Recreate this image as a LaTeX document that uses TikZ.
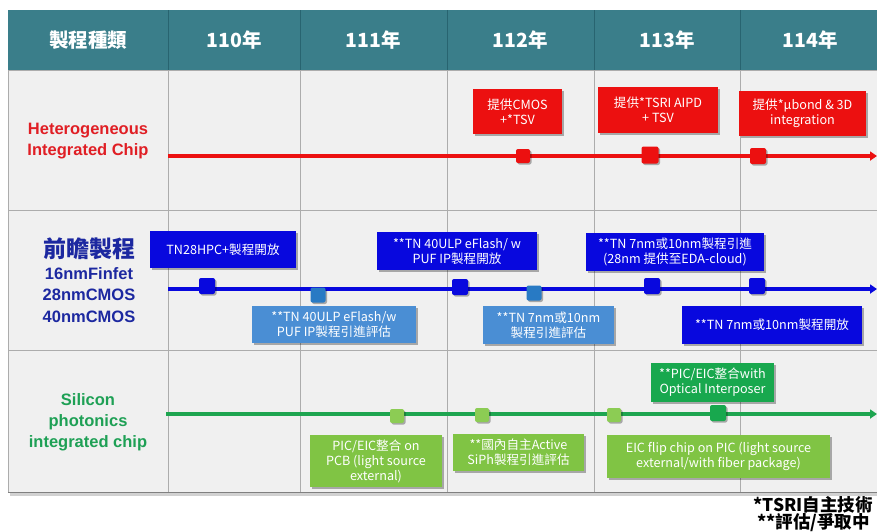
\documentclass[tikz,border=0pt]{standalone}
\usepackage{fontspec}
\setmainfont{Liberation Sans}
\newfontfamily\cjk{Noto Sans CJK TC}
\usetikzlibrary{arrows.meta,shadows}
\definecolor{headteal}{RGB}{58,126,138}
\definecolor{headline}{RGB}{40,100,112}
\definecolor{cellbg}{RGB}{240,240,240}
\definecolor{gridgray}{RGB}{172,172,172}
\definecolor{hred}{RGB}{236,16,16}
\definecolor{labred}{RGB}{224,30,36}
\definecolor{dblue}{RGB}{8,8,222}
\definecolor{labblue}{RGB}{28,40,160}
\definecolor{lblue}{RGB}{74,142,212}
\definecolor{lbluem}{RGB}{40,122,196}
\definecolor{gline}{RGB}{30,165,80}
\definecolor{dgreen}{RGB}{24,168,78}
\definecolor{lgreen}{RGB}{128,196,68}
\definecolor{lgreenm}{RGB}{140,204,84}
\definecolor{labgreen}{RGB}{30,160,85}
\tikzset{
  shd/.style={drop shadow={shadow xshift=1.5pt,shadow yshift=-1.5pt,opacity=0.3,fill=black}},
  tbox/.style={shd,inner sep=0pt,align=center,text=white,font=\cjk\fontsize{12.6}{15}\selectfont},
  redbox/.style={tbox,fill=hred},
  dbbox/.style={tbox,fill=dblue},
  lbbox/.style={tbox,fill=lblue},
  dgbox/.style={tbox,fill=dgreen},
  lgbox/.style={tbox,fill=lgreen},
  mark box/.style={shd,inner sep=0pt,rounded corners=2pt,minimum size=#1},
  headtxt/.style={text=white,font=\cjk\bfseries\fontsize{19.5}{22}\selectfont},
  tline/.style={line width=3.5pt,-{Triangle[length=7pt,width=9pt]}},
  fntxt/.style={anchor=west,inner sep=0pt,font=\cjk\bfseries\fontsize{17.5}{19}\selectfont},
}
\begin{document}
\begin{tikzpicture}[x=1pt,y=-1pt]
\useasboundingbox[fill=white] (0,0) rectangle (877,531);
% table background
\fill[black,opacity=0.18] (10,492) rectangle (877,496);
\fill[cellbg] (8,70) rectangle (877,492);
\fill[headteal] (8,10) rectangle (877,70);
\foreach \xx in {168,300,447,594,740}{
  \draw[headline,line width=0.8pt] (\xx,10) -- (\xx,70);
  \draw[gridgray,line width=0.8pt] (\xx,70) -- (\xx,492);
}
\draw[gridgray,line width=0.8pt] (8,70) -- (877,70);
\draw[gridgray,line width=1pt] (8,210) -- (877,210);
\draw[gridgray,line width=1pt] (8,350) -- (877,350);
\draw[gray,line width=1pt] (8,492) -- (877,492);
\draw[gridgray,line width=0.8pt] (8,70) -- (8,492);
% header
\node[headtxt] (h0) at (88,40) {製程種類};
\node[headtxt] (h1) at (234,40) {110年};
\node[headtxt] (h2) at (373.5,40) {111年};
\node[headtxt] (h3) at (520.5,40) {112年};
\node[headtxt] (h4) at (667,40) {113年};
\node[headtxt] (h5) at (810,40) {114年};
% row labels
\node[align=center,text=labred,font=\bfseries\fontsize{16.5}{21}\selectfont] (lab1) at (88,141) {Heterogeneous\\Integrated Chip};
\node[text=labblue,font=\cjk\bfseries\fontsize{23}{24}\selectfont] (lab2a) at (89,249) {前瞻製程};
\node[align=center,text=labblue,font=\bfseries\fontsize{16.5}{21.5}\selectfont] (lab2b) at (89,295) {16nmFinfet\\28nmCMOS\\40nmCMOS};
\node[align=center,text=labgreen,font=\bfseries\fontsize{16.5}{21}\selectfont] (lab3) at (88,422) {Silicon\\photonics\\integrated chip};
% timelines
\coordinate (r1s) at (168,156); \coordinate (r1e) at (877,156);
\coordinate (r2s) at (168,289); \coordinate (r2e) at (877,289);
\coordinate (r3s) at (166,414); \coordinate (r3e) at (877,414);
\draw[tline,hred] (r1s) -- (r1e);
\draw[tline,dblue] (r2s) -- (r2e);
\draw[tline,gline] (r3s) -- (r3e);
% row 1
\node[redbox,minimum width=89,minimum height=45] (b11) at (517.5,111.5) {提供CMOS\\+*TSV};
\node[redbox,minimum width=120,minimum height=46] (b12) at (658,110) {提供*TSRI AIPD\\+ TSV};
\node[redbox,minimum width=127,minimum height=45] (b13) at (802.5,113.5) {提供*µbond \& 3D\\integration};
\node[mark box=14,fill=hred] (m11) at (523,156) {};
\node[mark box=17,fill=hred] (m12) at (650,155) {};
\node[mark box=16,fill=hred] (m13) at (758,156) {};
% row 2
\node[dbbox,minimum width=146,minimum height=37] (b21) at (223,249.5) {TN28HPC+製程開放};
\node[dbbox,minimum width=160,minimum height=38] (b22) at (457,251) {**TN 40ULP eFlash/ w\\PUF IP製程開放};
\node[dbbox,minimum width=178,minimum height=38] (b23) at (675,252) {**TN 7nm或10nm製程引進\\(28nm 提供至EDA-cloud)};
\node[lbbox,minimum width=164,minimum height=37] (b24) at (334,324.5) {**TN 40ULP eFlash/w\\PUF IP製程引進評估};
\node[lbbox,minimum width=131,minimum height=38] (b25) at (548.5,325) {**TN 7nm或10nm\\製程引進評估};
\node[dbbox,minimum width=180,minimum height=38] (b26) at (772,325) {**TN 7nm或10nm製程開放};
\node[mark box=16,fill=dblue] (m21) at (207,286) {};
\node[mark box=16,fill=dblue] (m22) at (460,287) {};
\node[mark box=16,fill=dblue] (m23) at (652,286) {};
\node[mark box=16,fill=dblue] (m24) at (757,286) {};
\node[mark box=15,fill=lbluem] (m25) at (318,295) {};
\node[mark box=15,fill=lbluem] (m26) at (534,293) {};
% row 3
\node[lgbox,minimum width=132,minimum height=52] (b31) at (376,461) {PIC/EIC整合 on\\PCB (light source\\external)};
\node[lgbox,minimum width=131,minimum height=37] (b32) at (518.5,452.5) {**國內自主Active\\SiPh製程引進評估};
\node[lgbox,minimum width=223,minimum height=43] (b33) at (718.5,456.5) {EIC flip chip on PIC (light source\\external/with fiber package)};
\node[dgbox,minimum width=123,minimum height=39] (b34) at (712.5,382.5) {**PIC/EIC整合with\\Optical Interposer};
\node[mark box=14,fill=lgreenm] (m31) at (397,416) {};
\node[mark box=14,fill=lgreenm] (m32) at (482,415) {};
\node[mark box=14,fill=lgreenm] (m33) at (614,415) {};
\node[mark box=16,fill=dgreen] (m34) at (718,413) {};
% footnote
\node[fntxt] (fn1) at (753,505) {*TSRI自主技術};
\node[fntxt] (fn2) at (757,523) {**評估/爭取中};
\end{tikzpicture}
\end{document}
